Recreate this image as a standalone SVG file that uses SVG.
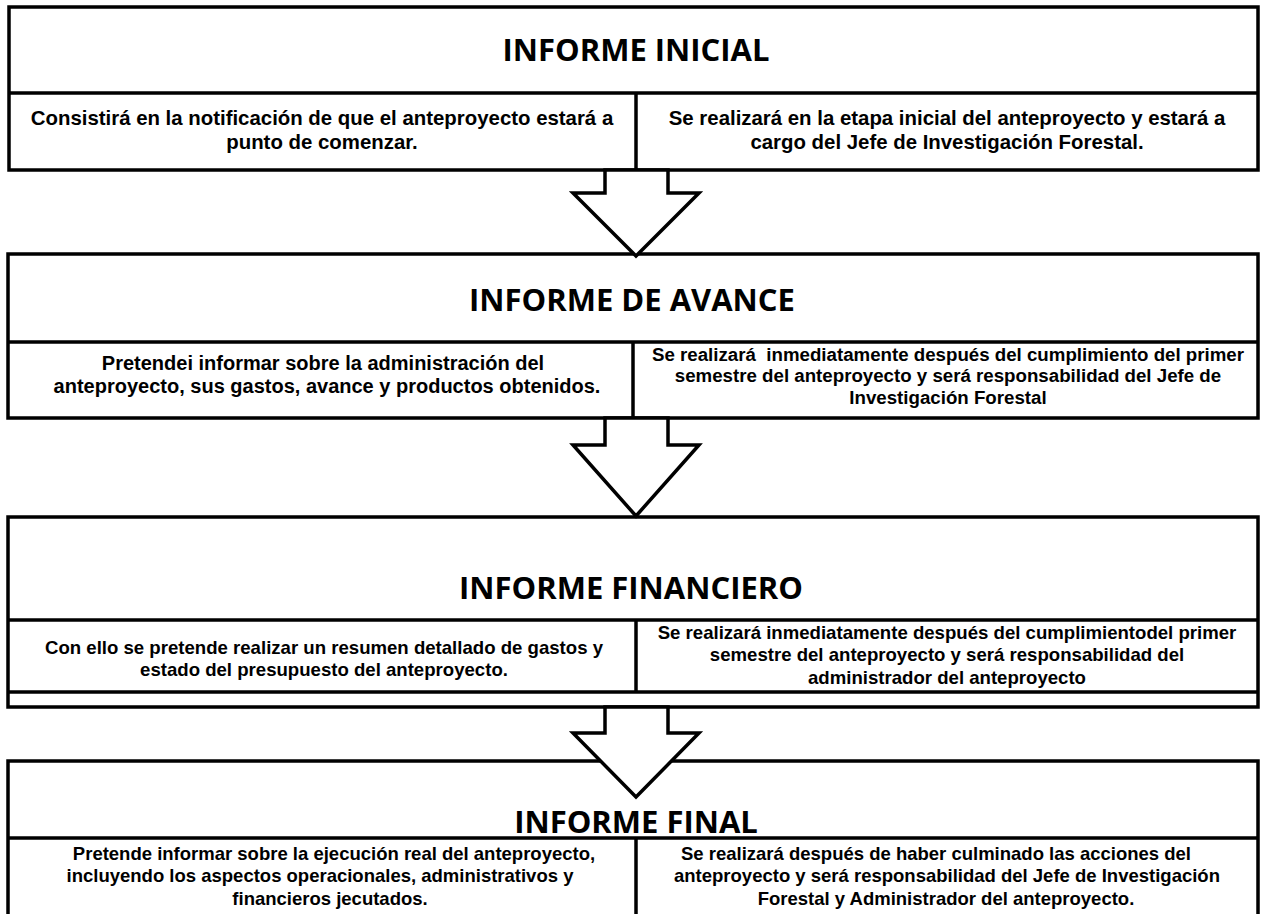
<svg xmlns="http://www.w3.org/2000/svg" width="1262" height="914" viewBox="0 0 1262 914">
<style>
.box{fill:#fff;stroke:#000;stroke-width:3.5}
.ln{fill:none;stroke:#000;stroke-width:3.5}
.arr{fill:#fff;stroke:#000;stroke-width:3.5;stroke-linejoin:miter}
.t{font-family:"Open Sans",Lato,sans-serif;font-weight:700;font-size:31px;text-anchor:middle;fill:#000}
text.s,text.s1,text.s2,text.s3,text.s4{font-family:"Liberation Sans",Arial,sans-serif;font-weight:700;text-anchor:middle;fill:#000}
.s{font-size:20.4px}
.s1{font-size:20px}
.s3{font-size:18.7px}
.s2{font-size:18.6px}
.s4{font-size:18.5px}
</style>
<rect width="1262" height="914" fill="#fff"/>
<g id="informe-inicial">
<rect class="box" x="9" y="7" width="1249" height="163"/>
<line class="ln" x1="9" y1="93" x2="1258" y2="93"/>
<line class="ln" x1="636" y1="93" x2="636" y2="170"/>
<text class="t" x="636" y="61">INFORME INICIAL</text>
<text class="s" x="322" y="124.5">Consistirá en la notificación de que el anteproyecto estará a</text>
<text class="s" x="322" y="148.5">punto de comenzar.</text>
<text class="s" x="947" y="124.5">Se realizará en la etapa inicial del anteproyecto y estará a</text>
<text class="s" x="947" y="148.5">cargo del Jefe de Investigación Forestal.</text>
</g>
<g id="informe-avance">
<rect class="box" x="8" y="254" width="1250" height="164"/>
<line class="ln" x1="8" y1="342" x2="1258" y2="342"/>
<line class="ln" x1="633" y1="342" x2="633" y2="418"/>
<text class="t" x="632" y="311">INFORME DE AVANCE</text>
<text class="s1" x="323" y="370">Pretendei informar sobre la administración del</text>
<text class="s1" x="327" y="393">anteproyecto, sus gastos, avance y productos obtenidos.</text>
<text class="s3" x="948" y="360.5" xml:space="preserve">Se realizará  inmediatamente después del cumplimiento del primer</text>
<text class="s3" x="948" y="382">semestre del anteproyecto y será responsabilidad del Jefe de</text>
<text class="s3" x="948" y="403.5">Investigación Forestal</text>
</g>
<g id="informe-financiero">
<rect class="box" x="8" y="517" width="1250" height="190"/>
<line class="ln" x1="8" y1="620" x2="1258" y2="620"/>
<line class="ln" x1="8" y1="692" x2="1258" y2="692"/>
<line class="ln" x1="636" y1="620" x2="636" y2="692"/>
<text class="t" x="631" y="599">INFORME FINANCIERO</text>
<text class="s2" x="324" y="653.5">Con ello se pretende realizar un resumen detallado de gastos y</text>
<text class="s2" x="324" y="676">estado del presupuesto del anteproyecto.</text>
<text class="s2" x="947" y="638.5">Se realizará inmediatamente después del cumplimientodel primer</text>
<text class="s2" x="947" y="661">semestre del anteproyecto y será responsabilidad del</text>
<text class="s2" x="947" y="683.5">administrador del anteproyecto</text>
</g>
<g id="informe-final">
<rect class="box" x="8" y="761" width="1250" height="160"/>
<line class="ln" x1="8" y1="838" x2="1258" y2="838"/>
<line class="ln" x1="636" y1="838" x2="636" y2="914"/>
<text class="t" x="636" y="833">INFORME FINAL</text>
<text class="s4" x="334" y="859.5">Pretende informar sobre la ejecución real del anteproyecto,</text>
<text class="s4" x="320" y="882">incluyendo los aspectos operacionales, administrativos y</text>
<text class="s4" x="330" y="904.5">financieros jecutados.</text>
<text class="s4" x="936" y="859.5">Se realizará después de haber culminado las acciones del</text>
<text class="s4" x="947" y="882">anteproyecto y será responsabilidad del Jefe de Investigación</text>
<text class="s4" x="946" y="904.5">Forestal y Administrador del anteproyecto.</text>
</g>
<g id="connectors">
<polygon class="arr" points="605,170 605,193 573,193 636,256 699,193 668,193 668,170"/>
<polygon class="arr" points="605,418 605,445 573,445 636,516 699,445 668,445 668,418"/>
<polygon class="arr" points="605,707 605,733 573,733 636,797 699,733 668,733 668,707"/>
</g>
</svg>
